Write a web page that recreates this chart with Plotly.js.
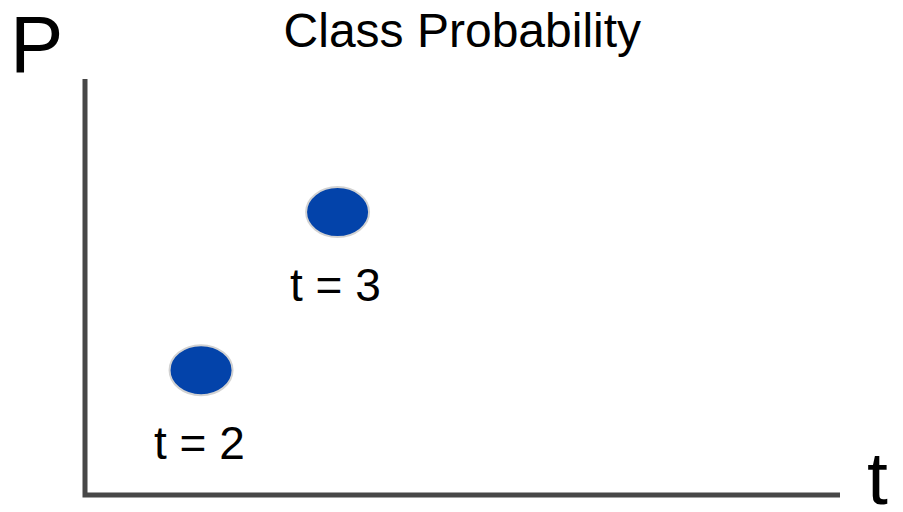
<!DOCTYPE html>
<html>
<head>
<meta charset="utf-8">
<script src="https://cdn.plot.ly/plotly-3.0.1.min.js"></script>
<style>
  html, body { margin: 0; padding: 0; background: #ffffff; }
  #chart { width: 903px; height: 512px; }
</style>
</head>
<body>
<div id="chart"></div>
<script>
// Class probability at two time steps
const tValues = [2, 3];
const probValues = [0.30, 0.68];
const pointLabels = ['t = 2', 't = 3'];

const titleText = 'Class Probability';
const yAxisLabel = 'P';
const xAxisLabel = 't';

const xRange = [1.15, 6.68];
const yRange = [0, 1];

const FONT = '"Liberation Sans", Arial, sans-serif';
const DOT_FILL = '#0343aa';
const DOT_EDGE = '#d2d2d2';
const AXIS_COLOR = '#474747';

// Oval markers anchored at each data point, sized in pixels
const dotShapes = tValues.map((t, i) => ({
  type: 'circle',
  xref: 'x', yref: 'y',
  xsizemode: 'pixel', ysizemode: 'pixel',
  xanchor: t, yanchor: probValues[i],
  x0: -31.5, x1: 31.5, y0: -25, y1: 25,
  fillcolor: DOT_FILL,
  line: { color: DOT_EDGE, width: 2 }
}));

// L-shaped axes along the left and bottom edges of the plot area
const axisShape = {
  type: 'path',
  xref: 'paper', yref: 'paper',
  path: 'M 0,1 L 0,0 L 1,0',
  line: { color: AXIS_COLOR, width: 5 },
  layer: 'above'
};

const labelAnnotations = tValues.map((t, i) => ({
  x: t, y: probValues[i],
  xref: 'x', yref: 'y',
  text: pointLabels[i],
  showarrow: false,
  xanchor: 'center', yanchor: 'middle',
  xshift: -2, yshift: -73,
  font: { family: FONT, size: 46, color: '#000000' }
}));

const axisLabelAnnotations = [
  {
    x: -0.0642, y: 1.084, xref: 'paper', yref: 'paper',
    text: yAxisLabel, showarrow: false,
    xanchor: 'center', yanchor: 'middle',
    font: { family: FONT, size: 80, color: '#000000' }
  },
  {
    x: 1.050, y: 0.041, xref: 'paper', yref: 'paper',
    text: xAxisLabel, showarrow: false,
    xanchor: 'center', yanchor: 'middle',
    font: { family: FONT, size: 75, color: '#000000' }
  }
];

const trace = {
  type: 'scatter',
  mode: 'markers',
  x: tValues,
  y: probValues,
  marker: { size: 1, opacity: 0 },
  hoverinfo: 'skip',
  showlegend: false
};

const hiddenAxis = {
  showgrid: false, zeroline: false, showline: false,
  showticklabels: false, ticks: '', fixedrange: true
};

const layout = {
  width: 903, height: 512,
  margin: { l: 85, r: 63, t: 79, b: 17, pad: 0 },
  paper_bgcolor: '#ffffff',
  plot_bgcolor: '#ffffff',
  title: {
    text: titleText,
    x: 0.512, xanchor: 'center',
    y: 0.941, yanchor: 'middle',
    font: { family: FONT, size: 48, color: '#000000' }
  },
  xaxis: Object.assign({ range: xRange }, hiddenAxis),
  yaxis: Object.assign({ range: yRange }, hiddenAxis),
  shapes: [axisShape].concat(dotShapes),
  annotations: labelAnnotations.concat(axisLabelAnnotations),
  showlegend: false
};

Plotly.newPlot('chart', [trace], layout, { displayModeBar: false, staticPlot: true });
</script>
</body>
</html>
